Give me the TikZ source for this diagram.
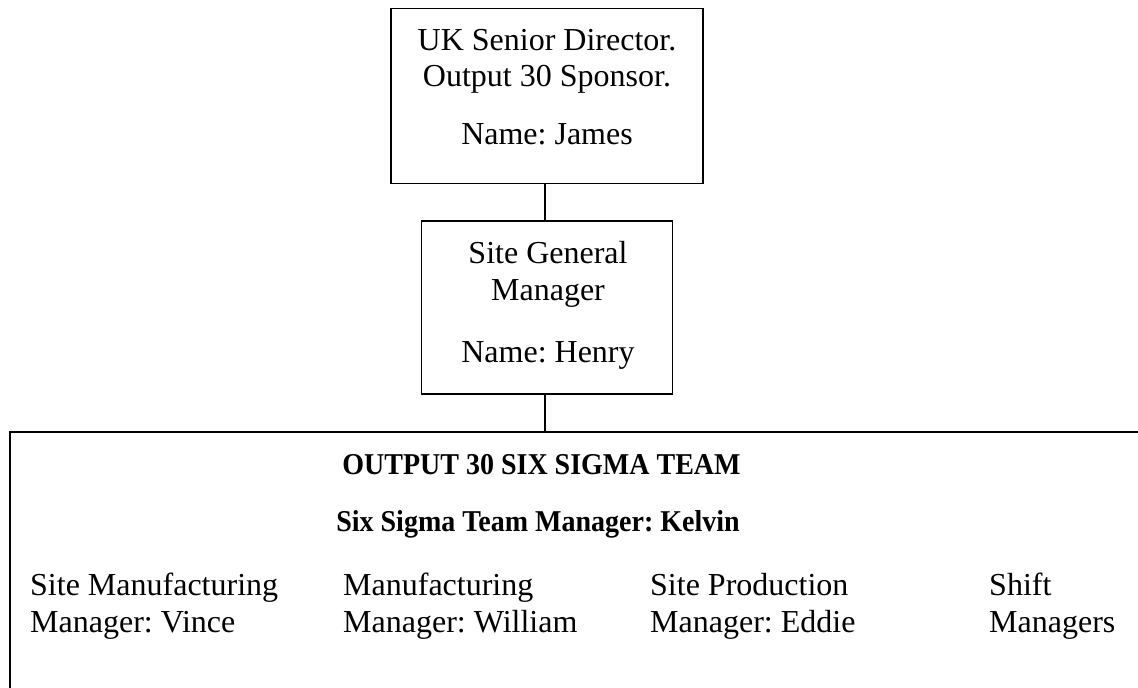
\documentclass[tikz,border=0pt]{standalone}
\usepackage{fontspec}
\setmainfont{Liberation Serif}
\frenchspacing
\begin{document}
\begin{tikzpicture}[x=1pt,y=-1pt,
  every node/.style={font=\fontsize{32}{36}\selectfont},
  frame/.style={draw,line width=1.8pt,rectangle,inner sep=0pt},
  link/.style={line width=1.8pt},
  label/.style={anchor=base,inner sep=0pt},
  leftlabel/.style={anchor=base west,inner sep=0pt},
  headlabel/.style={anchor=base,inner sep=0pt,font=\fontsize{28}{32}\selectfont\bfseries}]
\useasboundingbox (0,0) rectangle (1138,688);
\clip (0,0) rectangle (1138,688);
\fill[white] (0,0) rectangle (1138,688);

% boxes
\node[frame,minimum width=312pt,minimum height=175pt] (dir) at (547,96) {};
\node[frame,minimum width=251pt,minimum height=173pt] (gm) at (547,307.5) {};
\node[frame,minimum width=1180pt,minimum height=320pt,anchor=north west] (team) at (9,431) {};

% connectors
\draw[link] ([xshift=-2pt]dir.south) -- ([xshift=-2pt]dir.south |- gm.north);
\draw[link] ([xshift=-2pt]gm.south) -- ([xshift=-2pt]gm.south |- team.north);

% sponsor box text
\node[label] (d1) at (547,50) {UK Senior Director.};
\node[label] (d2) at (547,86) {Output 30 Sponsor.};
\node[label] (d3) at (547,144) {Name: James};

% general manager box text
\node[label] (g1) at (548,263) {Site General};
\node[label] (g2) at (548,300) {Manager};
\node[label] (g3) at (548,362) {Name: Henry};

% team box text
\node[headlabel,yscale=1.08] (t1) at (541.5,474) {OUTPUT 30 SIX SIGMA TEAM};
\node[headlabel,yscale=1.08] (t2) at (538,531) {Six Sigma Team Manager: Kelvin};

\node[leftlabel] (m1a) at (30,595) {Site Manufacturing};
\node[leftlabel] (m1b) at (30,632) {Manager: Vince};
\node[leftlabel] (m2a) at (343,595) {Manufacturing};
\node[leftlabel] (m2b) at (343,632) {Manager: William};
\node[leftlabel] (m3a) at (650,595) {Site Production};
\node[leftlabel] (m3b) at (650,632) {Manager: Eddie};
\node[leftlabel] (m4a) at (989,595) {Shift};
\node[leftlabel] (m4b) at (989,632) {Managers};
\end{tikzpicture}
\end{document}
